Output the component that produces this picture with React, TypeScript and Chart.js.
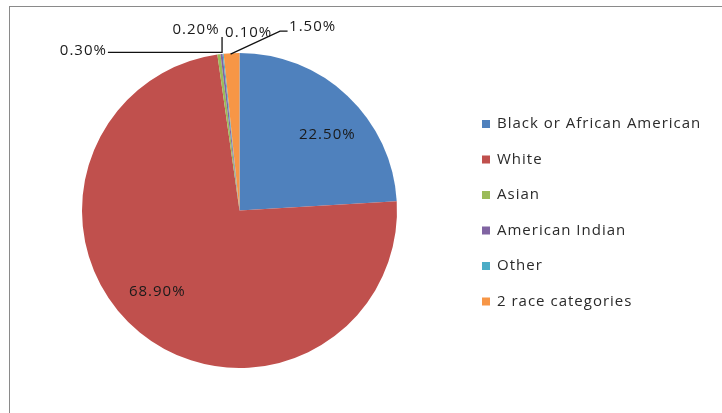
import React, { useEffect, useRef } from "react";
import { Chart, registerables } from "chart.js";

Chart.register(...registerables);

const categories = [
  "Black or African American",
  "White",
  "Asian",
  "American Indian",
  "Other",
  "2 race categories",
];
const values = [22.5, 68.9, 0.3, 0.2, 0.1, 1.5];
const valueLabels = ["22.50%", "68.90%", "0.30%", "0.20%", "0.10%", "1.50%"];
const colors = ["#4F81BD", "#C0504D", "#9BBB59", "#8064A2", "#4BACC6", "#F79646"];

const FONT = '15px "Open Sans", "DejaVu Sans", sans-serif';

const labelPlugin = {
  id: "pieLabels",
  afterDatasetsDraw(chart: any) {
    const ctx = chart.ctx;
    const meta = chart.getDatasetMeta(0);
    ctx.save();
    ctx.font = FONT;
    (ctx as any).letterSpacing = "1px";
    ctx.fillStyle = "#1a1a1a";
    ctx.strokeStyle = "#111";
    ctx.lineWidth = 1.3;
    ctx.textBaseline = "middle";
    meta.data.forEach((arc: any, i: number) => {
      const p = arc.getProps(["x", "y", "startAngle", "endAngle", "outerRadius"], true);
      const mid = (p.startAngle + p.endAngle) / 2;
      const label = chart.data.datasets[0].valueLabels[i];
      const ax = p.x + Math.cos(mid) * p.outerRadius;
      const ay = p.y + Math.sin(mid) * p.outerRadius;
      if (i < 2) {
        const a = mid + (6 * Math.PI) / 180;
        const lx = p.x + Math.cos(a) * p.outerRadius * 0.735;
        const ly = p.y + Math.sin(a) * p.outerRadius * 0.735;
        ctx.textAlign = "center";
        ctx.fillText(label, lx, ly);
      } else if (i === 2) {
        ctx.beginPath();
        ctx.moveTo(ax + 3, ay - 2);
        ctx.lineTo(ax - 111, ay - 2);
        ctx.stroke();
        ctx.textAlign = "right";
        ctx.fillText(label, ax - 112, ay - 4);
      } else if (i === 3) {
        ctx.beginPath();
        ctx.moveTo(ax + 0.5, ay - 1);
        ctx.lineTo(ax + 0.5, ay - 17);
        ctx.stroke();
        ctx.textAlign = "right";
        ctx.fillText(label, ax - 2, ay - 24);
      } else if (i === 4) {
        ctx.textAlign = "left";
        ctx.fillText(label, ax + 2, ay - 21);
      } else if (i === 5) {
        ctx.beginPath();
        ctx.moveTo(ax - 1, ay + 1);
        ctx.lineTo(ax + 48.5, ay - 22);
        ctx.lineTo(ax + 56, ay - 22);
        ctx.stroke();
        ctx.textAlign = "left";
        ctx.fillText(label, ax + 57.5, ay - 26);
      }
    });
    ctx.restore();
  },
};

const legendPlugin = {
  id: "sideLegend",
  afterDraw(chart: any) {
    const ctx = chart.ctx;
    const labels = chart.data.labels as string[];
    const bg = chart.data.datasets[0].backgroundColor as string[];
    const x0 = 482;
    const y0 = 124;
    const step = 35.5;
    ctx.save();
    ctx.font = FONT;
    (ctx as any).letterSpacing = "1px";
    ctx.textAlign = "left";
    ctx.textBaseline = "middle";
    labels.forEach((lab, i) => {
      const cy = y0 + i * step;
      ctx.fillStyle = bg[i];
      ctx.fillRect(x0, cy - 4, 8, 8);
      ctx.fillStyle = "#2a2a2a";
      ctx.fillText(lab, x0 + 15, cy);
    });
    ctx.restore();
  },
};

export default function App() {
  const ref = useRef<HTMLCanvasElement | null>(null);
  useEffect(() => {
    if (!ref.current) return;
    const chart = new Chart(ref.current, {
      type: "pie",
      data: {
        labels: categories,
        datasets: [
          {
            data: values,
            backgroundColor: colors,
            borderWidth: 0,
            hoverOffset: 0,
            offset: 0,
            valueLabels,
          } as any,
        ],
      },
      options: {
        responsive: false,
        animation: false,
        events: [],
        layout: { padding: { left: 82, right: 325, top: 53, bottom: 45 } },
        plugins: {
          legend: { display: false },
          tooltip: { enabled: false },
          title: { display: false },
        },
      },
      plugins: [labelPlugin, legendPlugin],
    });
    return () => chart.destroy();
  }, []);
  return (
    <div
      style={{
        position: "absolute",
        left: 0,
        top: 0,
        width: 722,
        height: 413,
        background: "#fff",
        overflow: "hidden",
      }}
    >
      <div
        style={{
          position: "absolute",
          left: 9,
          top: 6,
          right: 0,
          bottom: 0,
          borderLeft: "1px solid #8a8a8a",
          borderTop: "1px solid #8a8a8a",
        }}
      />
      <canvas
        ref={ref}
        width={722}
        height={413}
        style={{ position: "absolute", left: 0, top: 0 }}
      />
    </div>
  );
}
